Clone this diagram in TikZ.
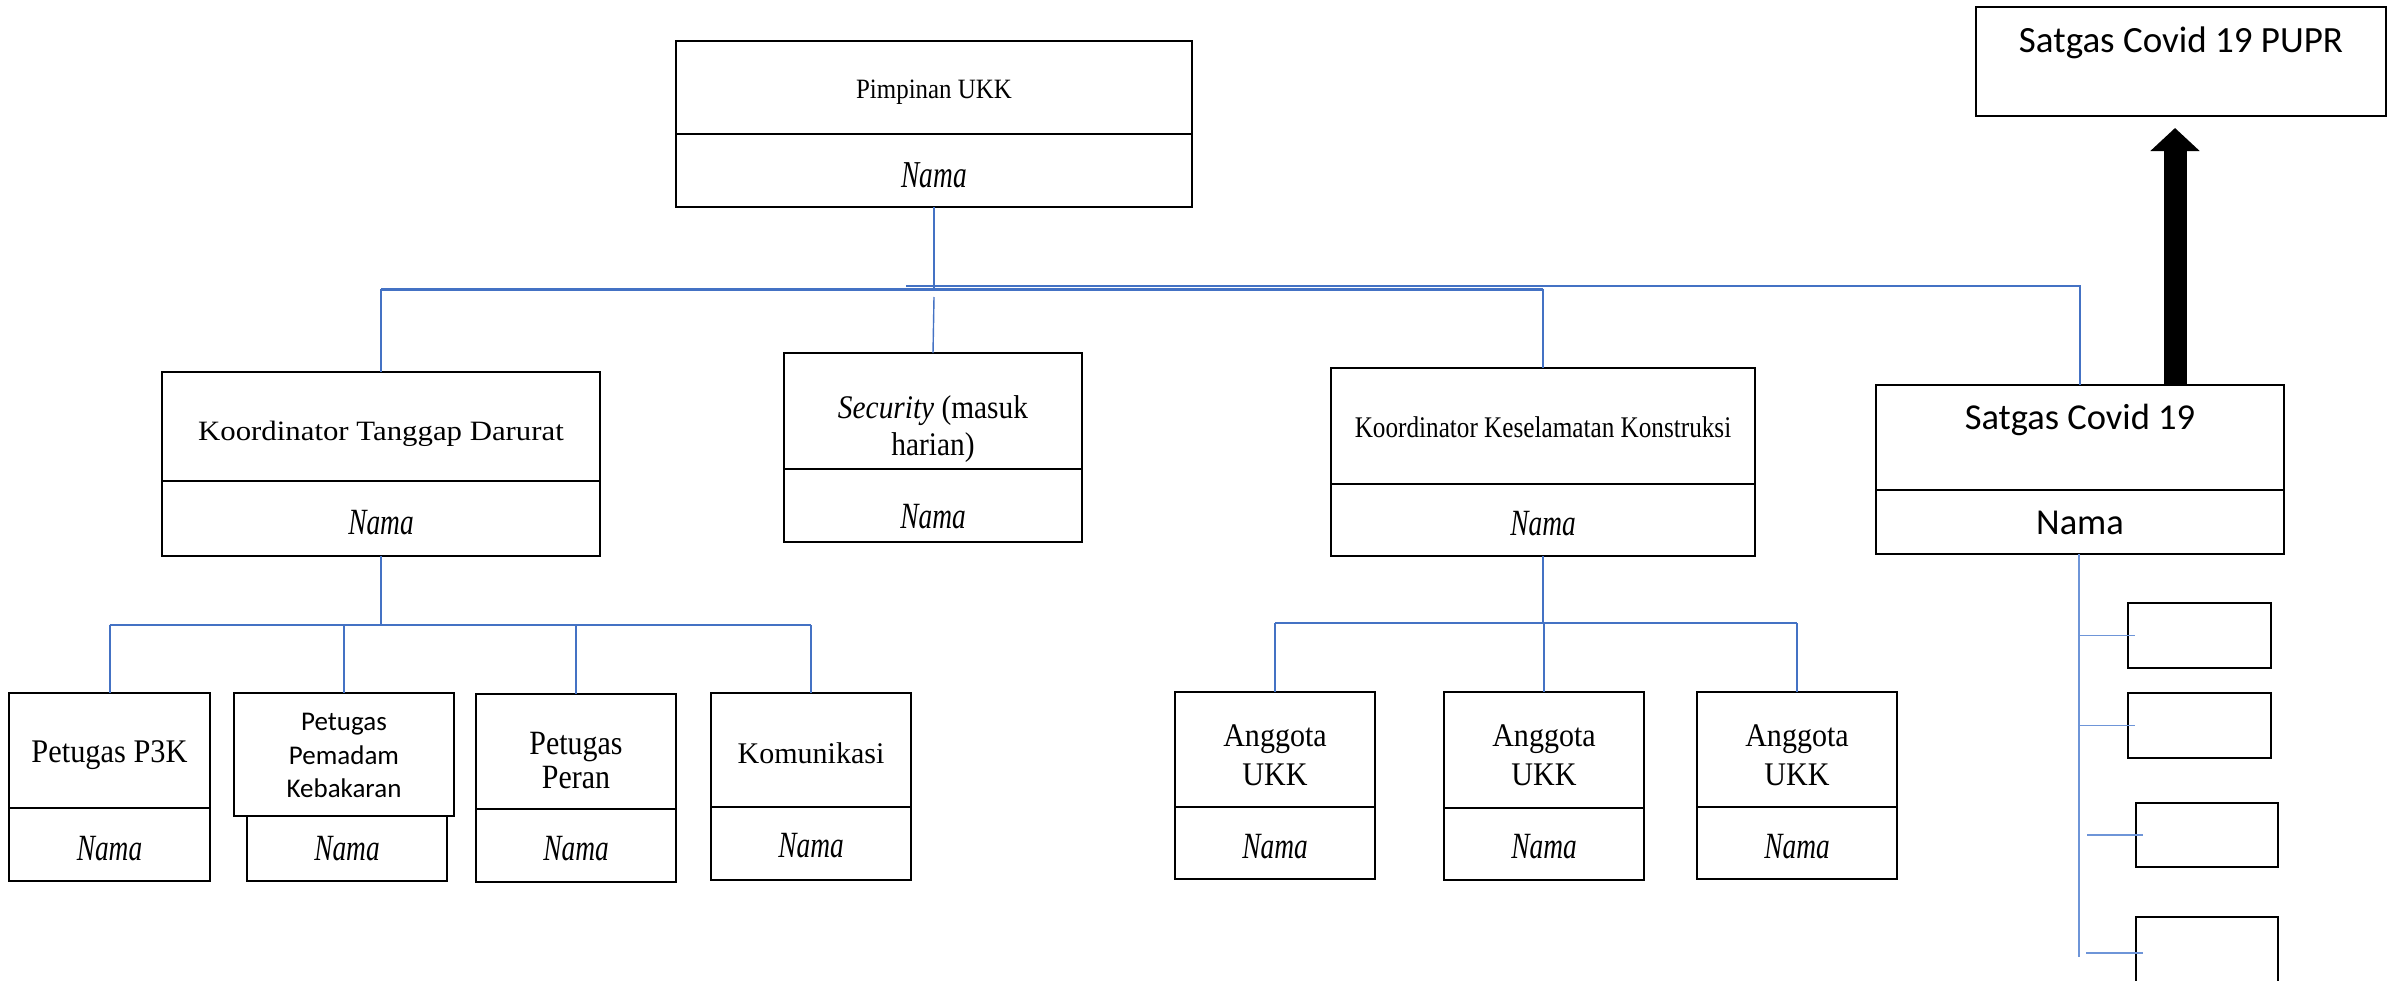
\documentclass[tikz,border=0pt]{standalone}
\usepackage{fontspec}
\setmainfont{Liberation Serif}
\newfontfamily\calibfont{Carlito}
\usepackage{graphicx}
\usetikzlibrary{arrows.meta}
\definecolor{linkblue}{HTML}{4472C4}
\definecolor{lightlink}{HTML}{6E95D8}
% horizontal squeeze of a piece of text
\newcommand{\hsq}[2]{\scalebox{#1}[1]{#2}}
\newcommand{\fs}[1]{\fontsize{#1}{#1}\selectfont}
\newcommand{\namatxt}{\fs{37}\hsq{0.74}{\itshape Nama}}

\begin{document}
\begin{tikzpicture}[x=1pt,y=-1pt,
  cell/.style={draw=black, line width=1.6pt, inner sep=0pt, outer sep=0pt, anchor=north west},
  heavycell/.style={cell, line width=2.6pt},
  lbl/.style={inner sep=0pt, outer sep=0pt, anchor=base},
  conn/.style={draw=linkblue, line width=2pt},
  thinconn/.style={draw=linkblue, line width=1.4pt},
  sideconn/.style={draw=lightlink, line width=1.6pt},
  bigarrow/.style={draw=black, line width=23pt, -{Triangle[width=48pt,length=23pt]}, shorten >=12pt}]

\clip (0,0) rectangle (2396,980);
\fill[white] (0,0) rectangle (2396,980);

% ---------- boxes ----------
\node[cell, minimum width=516pt, minimum height=93pt] (pim) at (676,41) {};
\node[cell, minimum width=516pt, minimum height=73pt] (pim-n) at (pim.south west) {};

\node[heavycell, minimum width=410pt, minimum height=109pt] (pupr) at (1976,7) {};

\node[cell, minimum width=438pt, minimum height=109pt] (ktd) at (162,372) {};
\node[cell, minimum width=438pt, minimum height=75pt] (ktd-n) at (ktd.south west) {};

\node[cell, minimum width=298pt, minimum height=116pt] (sec) at (784,353) {};
\node[cell, minimum width=298pt, minimum height=73pt] (sec-n) at (sec.south west) {};

\node[cell, minimum width=424pt, minimum height=116pt] (kkk) at (1331,368) {};
\node[cell, minimum width=424pt, minimum height=72pt] (kkk-n) at (kkk.south west) {};

\node[heavycell, minimum width=408pt, minimum height=105pt] (sat) at (1876,385) {};
\node[heavycell, minimum width=408pt, minimum height=64pt] (sat-n) at (sat.south west) {};

\node[cell, minimum width=201pt, minimum height=115pt] (p3k) at (9,693) {};
\node[cell, minimum width=201pt, minimum height=73pt] (p3k-n) at (p3k.south west) {};

\node[heavycell, minimum width=220pt, minimum height=123pt] (pem) at (234,693) {};
\node[cell, minimum width=200pt, minimum height=65pt] (pem-n) at (247,816) {};

\node[cell, minimum width=200pt, minimum height=115pt] (per) at (476,694) {};
\node[cell, minimum width=200pt, minimum height=73pt] (per-n) at (per.south west) {};

\node[cell, minimum width=200pt, minimum height=114pt] (kom) at (711,693) {};
\node[cell, minimum width=200pt, minimum height=73pt] (kom-n) at (kom.south west) {};

\node[cell, minimum width=200pt, minimum height=115pt] (a1) at (1175,692) {};
\node[cell, minimum width=200pt, minimum height=72pt] (a1-n) at (a1.south west) {};
\node[cell, minimum width=200pt, minimum height=116pt] (a2) at (1444,692) {};
\node[cell, minimum width=200pt, minimum height=72pt] (a2-n) at (a2.south west) {};
\node[cell, minimum width=200pt, minimum height=115pt] (a3) at (1697,692) {};
\node[cell, minimum width=200pt, minimum height=72pt] (a3-n) at (a3.south west) {};

\node[heavycell, minimum width=143pt, minimum height=65pt] (s1) at (2128,603) {};
\node[heavycell, minimum width=143pt, minimum height=65pt] (s2) at (2128,693) {};
\node[heavycell, minimum width=142pt, minimum height=64pt] (s3) at (2136,803) {};
\node[heavycell, minimum width=142pt, minimum height=72pt] (s4) at (2136,917) {};

% ---------- labels ----------
\node[lbl] (pim-t) at (934,98) {\fs{28}\hsq{0.89}{Pimpinan UKK}};
\node[lbl] (pim-nt) at (934,187) {\fs{38}\hsq{0.72}{\itshape Nama}};

\node[lbl] (pupr-t) at (2181,52) {\calibfont\fs{37}Satgas Covid 19 PUPR};

\node[lbl] (ktd-t) at (381,440) {\fs{28}\hsq{1.1}{Koordinator Tanggap Darurat}};
\node[lbl] (ktd-nt) at (381,534) {\namatxt};

\node[lbl] (sec-t1) at (933,418) {\fs{33}\hsq{0.89}{\textit{Security} (masuk}};
\node[lbl] (sec-t2) at (933,455) {\fs{33}\hsq{0.89}{harian)}};
\node[lbl] (sec-nt) at (933,528) {\namatxt};

\node[lbl] (kkk-t) at (1543,437) {\fs{30}\hsq{0.84}{Koordinator Keselamatan Konstruksi}};
\node[lbl] (kkk-nt) at (1543,535) {\namatxt};

\node[lbl] (sat-t) at (2080,429) {\calibfont\fs{36.5}Satgas Covid 19};
\node[lbl] (sat-nt) at (2080,534) {\calibfont\fs{36.5}Nama};

\node[lbl] (p3k-t) at (109.5,762) {\fs{33}\hsq{0.92}{Petugas P3K}};
\node[lbl] (p3k-nt) at (109.5,860) {\namatxt};

\node[lbl] (pem-t1) at (344,730) {\calibfont\fs{27}Petugas};
\node[lbl] (pem-t2) at (344,764) {\calibfont\fs{27}Pemadam};
\node[lbl] (pem-t3) at (344,797) {\calibfont\fs{27}Kebakaran};
\node[lbl] (pem-nt) at (347,860) {\namatxt};

\node[lbl] (per-t1) at (576,754) {\fs{34}\hsq{0.88}{Petugas}};
\node[lbl] (per-t2) at (576,788) {\fs{34}\hsq{0.88}{Peran}};
\node[lbl] (per-nt) at (576,860) {\namatxt};

\node[lbl] (kom-t) at (811,763) {\fs{30}Komunikasi};
\node[lbl] (kom-nt) at (811,857) {\namatxt};

\foreach \n/\cx in {a1/1275, a2/1544, a3/1797} {
  \node[lbl] (\n-t1) at (\cx,746) {\fs{33}\hsq{0.91}{Anggota}};
  \node[lbl] (\n-t2) at (\cx,785) {\fs{33}\hsq{0.91}{UKK}};
  \node[lbl] (\n-nt) at (\cx,858) {\namatxt};
}

% ---------- connectors ----------
\coordinate (j0) at (934,289);
\coordinate (j0b) at (906,286);
\draw[conn] (pim-n.south) -- (j0);
\draw[conn, line width=3pt] (ktd.north |- j0) -- (kkk.north |- j0);
\draw[thinconn] (j0b) -| (sat.north);
\draw[conn] (ktd.north |- j0) -- (ktd.north);
\draw[thinconn] ([yshift=-8pt]j0) -- (sec.north);
\draw[conn] (kkk.north |- j0) -- (kkk.north);

\coordinate (j1) at (381,625);
\draw[conn] (ktd-n.south) -- (j1);
\draw[conn, line width=2.6pt] (p3k.north |- j1) -- (kom.north |- j1);
\foreach \n in {p3k,pem,per,kom} \draw[conn] (\n.north |- j1) -- (\n.north);

\coordinate (j2) at (1543,623);
\draw[conn] (kkk-n.south) -- (j2);
\draw[conn, line width=2.6pt] (a1.north |- j2) -- (a3.north |- j2);
\foreach \n in {a1,a2,a3} \draw[conn] (\n.north |- j2) -- (\n.north);

\coordinate (sbot) at (2079,957);
\draw[sideconn] (sat-n.south -| sbot) -- (sbot);
\draw[sideconn] (sbot |- s1.west) -- ([xshift=7pt]s1.west);
\draw[sideconn] (sbot |- s2.west) -- ([xshift=7pt]s2.west);
\draw[sideconn] ([xshift=8pt]sbot |- s3.west) -- ([xshift=7pt]s3.west);
\draw[sideconn] ([xshift=7pt]sbot |- s4.west) -- ([xshift=7pt]s4.west);

% ---------- report arrow up to PUPR ----------
\coordinate (ax) at (2175,0);
\draw[bigarrow] (sat.north -| ax) -- (pupr.south -| ax);

\end{tikzpicture}
\end{document}
